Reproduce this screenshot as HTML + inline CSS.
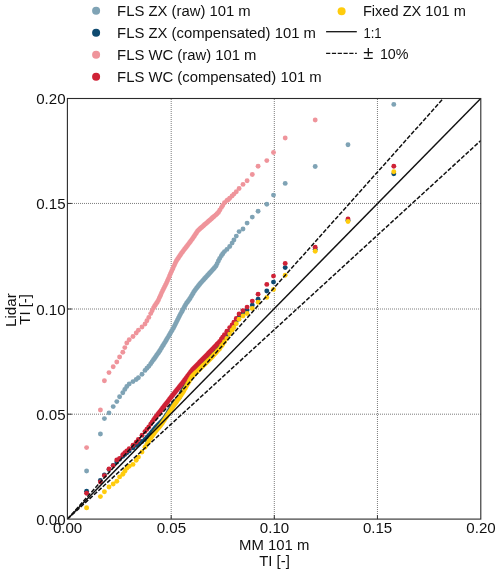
<!DOCTYPE html>
<html><head><meta charset="utf-8"><title>TI Q-Q plot</title>
<style>html,body{margin:0;padding:0;background:#fff;}body{width:500px;height:574px;position:relative;overflow:hidden;}</style>
</head><body>
<svg width="500" height="574" viewBox="0 0 500 574" style="position:absolute;left:0;top:0">
<defs><clipPath id="c"><rect x="67.4" y="98.5" width="413.4" height="420.6"/></clipPath></defs>
<rect x="0" y="0" width="500" height="574" fill="#fff"/>
<g stroke="#5a5a5a" stroke-width="0.8" stroke-dasharray="1 1" fill="none"><line x1="171.2" y1="99" x2="171.2" y2="519.1"/><line x1="274.3" y1="99" x2="274.3" y2="519.1"/><line x1="377.45" y1="99" x2="377.45" y2="519.1"/><line x1="68" y1="414.2" x2="480.8" y2="414.2"/><line x1="68" y1="309.0" x2="480.8" y2="309.0"/><line x1="68" y1="203.45" x2="480.8" y2="203.45"/></g>
<g stroke="#333" stroke-width="1" fill="none"><line x1="171.2" y1="519.1" x2="171.2" y2="515.1"/><line x1="274.3" y1="519.1" x2="274.3" y2="515.1"/><line x1="377.45" y1="519.1" x2="377.45" y2="515.1"/><line x1="67.4" y1="414.2" x2="71.9" y2="414.2"/><line x1="67.4" y1="309.0" x2="71.9" y2="309.0"/><line x1="67.4" y1="203.45" x2="71.9" y2="203.45"/></g>
<g clip-path="url(#c)">
<g fill="#7fa3b5"><circle cx="86.6" cy="471.0" r="2.45"/><circle cx="100.4" cy="434.0" r="2.45"/><circle cx="104.4" cy="418.6" r="2.45"/><circle cx="109.0" cy="412.9" r="2.45"/><circle cx="113.2" cy="406.6" r="2.45"/><circle cx="116.8" cy="401.6" r="2.45"/><circle cx="119.6" cy="396.7" r="2.45"/><circle cx="122.8" cy="392.7" r="2.45"/><circle cx="124.8" cy="389.4" r="2.45"/><circle cx="126.8" cy="386.5" r="2.45"/><circle cx="129.2" cy="383.9" r="2.45"/><circle cx="133.0" cy="381.6" r="2.45"/><circle cx="136.2" cy="379.5" r="2.45"/><circle cx="138.4" cy="377.7" r="2.45"/><circle cx="142.0" cy="374.2" r="2.45"/><circle cx="145.0" cy="370.4" r="2.45"/><circle cx="146.9" cy="368.3" r="2.45"/><circle cx="148.8" cy="366.2" r="2.45"/><circle cx="150.7" cy="363.7" r="2.45"/><circle cx="152.1" cy="361.7" r="2.45"/><circle cx="153.5" cy="359.8" r="2.45"/><circle cx="154.5" cy="358.4" r="2.45"/><circle cx="155.5" cy="357.0" r="2.45"/><circle cx="156.5" cy="355.5" r="2.45"/><circle cx="157.5" cy="354.1" r="2.45"/><circle cx="158.5" cy="352.7" r="2.45"/><circle cx="159.5" cy="351.2" r="2.45"/><circle cx="160.5" cy="349.6" r="2.45"/><circle cx="161.5" cy="347.9" r="2.45"/><circle cx="162.5" cy="346.3" r="2.45"/><circle cx="163.5" cy="344.7" r="2.45"/><circle cx="164.5" cy="343.1" r="2.45"/><circle cx="165.5" cy="341.5" r="2.45"/><circle cx="166.5" cy="339.8" r="2.45"/><circle cx="167.5" cy="338.1" r="2.45"/><circle cx="168.5" cy="336.4" r="2.45"/><circle cx="169.5" cy="334.7" r="2.45"/><circle cx="170.5" cy="333.0" r="2.45"/><circle cx="171.5" cy="331.3" r="2.45"/><circle cx="172.5" cy="329.6" r="2.45"/><circle cx="173.5" cy="327.9" r="2.45"/><circle cx="174.5" cy="326.0" r="2.45"/><circle cx="175.5" cy="324.0" r="2.45"/><circle cx="176.5" cy="322.0" r="2.45"/><circle cx="177.5" cy="320.0" r="2.45"/><circle cx="178.5" cy="318.0" r="2.45"/><circle cx="179.5" cy="316.0" r="2.45"/><circle cx="180.5" cy="314.1" r="2.45"/><circle cx="181.5" cy="312.2" r="2.45"/><circle cx="182.5" cy="310.4" r="2.45"/><circle cx="183.5" cy="308.6" r="2.45"/><circle cx="184.5" cy="306.7" r="2.45"/><circle cx="185.5" cy="304.9" r="2.45"/><circle cx="186.5" cy="303.3" r="2.45"/><circle cx="187.5" cy="301.9" r="2.45"/><circle cx="188.5" cy="300.6" r="2.45"/><circle cx="189.5" cy="299.2" r="2.45"/><circle cx="190.5" cy="297.6" r="2.45"/><circle cx="191.5" cy="295.9" r="2.45"/><circle cx="192.5" cy="294.2" r="2.45"/><circle cx="193.5" cy="292.5" r="2.45"/><circle cx="194.5" cy="290.9" r="2.45"/><circle cx="195.5" cy="289.6" r="2.45"/><circle cx="196.5" cy="288.3" r="2.45"/><circle cx="197.5" cy="287.0" r="2.45"/><circle cx="198.5" cy="285.8" r="2.45"/><circle cx="199.5" cy="284.4" r="2.45"/><circle cx="200.5" cy="283.2" r="2.45"/><circle cx="201.5" cy="282.1" r="2.45"/><circle cx="202.5" cy="281.0" r="2.45"/><circle cx="203.5" cy="279.9" r="2.45"/><circle cx="204.5" cy="278.8" r="2.45"/><circle cx="205.5" cy="277.7" r="2.45"/><circle cx="206.5" cy="276.6" r="2.45"/><circle cx="207.5" cy="275.5" r="2.45"/><circle cx="208.5" cy="274.4" r="2.45"/><circle cx="209.5" cy="273.3" r="2.45"/><circle cx="210.5" cy="272.2" r="2.45"/><circle cx="211.5" cy="271.1" r="2.45"/><circle cx="212.5" cy="270.0" r="2.45"/><circle cx="213.5" cy="268.9" r="2.45"/><circle cx="214.5" cy="267.7" r="2.45"/><circle cx="215.8" cy="266.3" r="2.45"/><circle cx="217.1" cy="263.8" r="2.45"/><circle cx="218.4" cy="261.0" r="2.45"/><circle cx="219.7" cy="258.4" r="2.45"/><circle cx="221.4" cy="255.8" r="2.45"/><circle cx="222.7" cy="253.8" r="2.45"/><circle cx="224.5" cy="251.6" r="2.45"/><circle cx="226.9" cy="249.4" r="2.45"/><circle cx="229.7" cy="246.5" r="2.45"/><circle cx="232.1" cy="243.1" r="2.45"/><circle cx="233.9" cy="240.0" r="2.45"/><circle cx="236.3" cy="236.1" r="2.45"/><circle cx="239.1" cy="231.6" r="2.45"/><circle cx="243.0" cy="229.0" r="2.45"/><circle cx="247.1" cy="223.1" r="2.45"/><circle cx="252.3" cy="217.1" r="2.45"/><circle cx="258.1" cy="211.2" r="2.45"/><circle cx="266.8" cy="204.3" r="2.45"/><circle cx="273.5" cy="195.1" r="2.45"/><circle cx="285.2" cy="183.4" r="2.45"/><circle cx="315.2" cy="166.5" r="2.45"/><circle cx="348.0" cy="144.7" r="2.45"/><circle cx="393.8" cy="104.4" r="2.45"/></g>
<g fill="#0e4a70"><circle cx="86.6" cy="491.2" r="2.45"/><circle cx="100.4" cy="480.4" r="2.45"/><circle cx="104.4" cy="475.0" r="2.45"/><circle cx="109.0" cy="469.5" r="2.45"/><circle cx="113.2" cy="465.4" r="2.45"/><circle cx="116.8" cy="462.0" r="2.45"/><circle cx="119.6" cy="459.3" r="2.45"/><circle cx="122.8" cy="456.2" r="2.45"/><circle cx="124.8" cy="454.4" r="2.45"/><circle cx="126.8" cy="452.8" r="2.45"/><circle cx="129.2" cy="450.9" r="2.45"/><circle cx="133.0" cy="447.9" r="2.45"/><circle cx="136.2" cy="445.4" r="2.45"/><circle cx="138.4" cy="443.9" r="2.45"/><circle cx="142.0" cy="441.5" r="2.45"/><circle cx="145.0" cy="439.5" r="2.45"/><circle cx="146.9" cy="437.5" r="2.45"/><circle cx="148.8" cy="435.5" r="2.45"/><circle cx="150.7" cy="433.4" r="2.45"/><circle cx="152.1" cy="431.7" r="2.45"/><circle cx="153.5" cy="430.1" r="2.45"/><circle cx="154.5" cy="428.9" r="2.45"/><circle cx="155.5" cy="427.8" r="2.45"/><circle cx="156.5" cy="426.8" r="2.45"/><circle cx="157.5" cy="425.8" r="2.45"/><circle cx="158.5" cy="424.8" r="2.45"/><circle cx="159.5" cy="423.8" r="2.45"/><circle cx="160.5" cy="422.8" r="2.45"/><circle cx="161.5" cy="421.7" r="2.45"/><circle cx="162.5" cy="420.6" r="2.45"/><circle cx="163.5" cy="419.5" r="2.45"/><circle cx="164.5" cy="418.2" r="2.45"/><circle cx="165.5" cy="416.7" r="2.45"/><circle cx="166.5" cy="415.2" r="2.45"/><circle cx="167.5" cy="413.7" r="2.45"/><circle cx="168.5" cy="412.0" r="2.45"/><circle cx="169.5" cy="410.3" r="2.45"/><circle cx="170.5" cy="408.7" r="2.45"/><circle cx="171.5" cy="407.0" r="2.45"/><circle cx="172.5" cy="405.4" r="2.45"/><circle cx="173.5" cy="404.0" r="2.45"/><circle cx="174.5" cy="402.8" r="2.45"/><circle cx="175.5" cy="401.6" r="2.45"/><circle cx="176.5" cy="400.4" r="2.45"/><circle cx="177.5" cy="399.3" r="2.45"/><circle cx="178.5" cy="398.1" r="2.45"/><circle cx="179.5" cy="397.0" r="2.45"/><circle cx="180.5" cy="394.9" r="2.45"/><circle cx="181.5" cy="392.8" r="2.45"/><circle cx="182.5" cy="390.7" r="2.45"/><circle cx="183.5" cy="388.9" r="2.45"/><circle cx="184.5" cy="387.2" r="2.45"/><circle cx="185.5" cy="385.5" r="2.45"/><circle cx="186.5" cy="383.8" r="2.45"/><circle cx="187.5" cy="382.1" r="2.45"/><circle cx="188.5" cy="380.3" r="2.45"/><circle cx="189.5" cy="378.6" r="2.45"/><circle cx="190.5" cy="376.9" r="2.45"/><circle cx="191.5" cy="375.2" r="2.45"/><circle cx="192.5" cy="373.8" r="2.45"/><circle cx="193.5" cy="372.8" r="2.45"/><circle cx="194.5" cy="371.8" r="2.45"/><circle cx="195.5" cy="370.9" r="2.45"/><circle cx="196.5" cy="369.9" r="2.45"/><circle cx="197.5" cy="368.9" r="2.45"/><circle cx="198.5" cy="367.9" r="2.45"/><circle cx="199.5" cy="366.9" r="2.45"/><circle cx="200.5" cy="365.9" r="2.45"/><circle cx="201.5" cy="365.0" r="2.45"/><circle cx="202.5" cy="364.0" r="2.45"/><circle cx="203.5" cy="363.0" r="2.45"/><circle cx="204.5" cy="362.0" r="2.45"/><circle cx="205.5" cy="361.0" r="2.45"/><circle cx="206.5" cy="360.0" r="2.45"/><circle cx="207.5" cy="359.1" r="2.45"/><circle cx="208.5" cy="358.1" r="2.45"/><circle cx="209.5" cy="357.1" r="2.45"/><circle cx="210.5" cy="356.0" r="2.45"/><circle cx="211.5" cy="354.7" r="2.45"/><circle cx="212.5" cy="353.5" r="2.45"/><circle cx="213.5" cy="352.2" r="2.45"/><circle cx="214.5" cy="351.0" r="2.45"/><circle cx="215.8" cy="349.3" r="2.45"/><circle cx="217.1" cy="347.7" r="2.45"/><circle cx="218.4" cy="346.1" r="2.45"/><circle cx="219.7" cy="344.5" r="2.45"/><circle cx="221.4" cy="342.2" r="2.45"/><circle cx="222.7" cy="340.4" r="2.45"/><circle cx="224.5" cy="337.9" r="2.45"/><circle cx="226.9" cy="334.7" r="2.45"/><circle cx="229.7" cy="330.6" r="2.45"/><circle cx="232.1" cy="327.0" r="2.45"/><circle cx="233.9" cy="324.3" r="2.45"/><circle cx="236.3" cy="320.7" r="2.45"/><circle cx="239.1" cy="316.5" r="2.45"/><circle cx="243.0" cy="313.0" r="2.45"/><circle cx="247.1" cy="310.1" r="2.45"/><circle cx="252.3" cy="305.1" r="2.45"/><circle cx="258.1" cy="299.3" r="2.45"/><circle cx="266.8" cy="291.0" r="2.45"/><circle cx="273.5" cy="282.1" r="2.45"/><circle cx="285.2" cy="267.6" r="2.45"/><circle cx="315.2" cy="249.5" r="2.45"/><circle cx="348.0" cy="220.5" r="2.45"/><circle cx="393.8" cy="173.7" r="2.45"/></g>
<g fill="#ef949b"><circle cx="86.6" cy="447.6" r="2.45"/><circle cx="100.4" cy="410.0" r="2.45"/><circle cx="104.4" cy="380.8" r="2.45"/><circle cx="109.0" cy="372.6" r="2.45"/><circle cx="113.2" cy="366.8" r="2.45"/><circle cx="116.8" cy="362.0" r="2.45"/><circle cx="119.6" cy="357.0" r="2.45"/><circle cx="122.8" cy="352.2" r="2.45"/><circle cx="124.8" cy="347.6" r="2.45"/><circle cx="126.8" cy="343.0" r="2.45"/><circle cx="129.2" cy="339.8" r="2.45"/><circle cx="133.0" cy="336.5" r="2.45"/><circle cx="136.2" cy="333.0" r="2.45"/><circle cx="138.4" cy="330.3" r="2.45"/><circle cx="142.0" cy="327.0" r="2.45"/><circle cx="145.0" cy="324.0" r="2.45"/><circle cx="146.9" cy="320.8" r="2.45"/><circle cx="148.8" cy="317.4" r="2.45"/><circle cx="150.7" cy="313.6" r="2.45"/><circle cx="152.1" cy="310.8" r="2.45"/><circle cx="153.5" cy="308.0" r="2.45"/><circle cx="154.5" cy="306.2" r="2.45"/><circle cx="155.5" cy="304.7" r="2.45"/><circle cx="156.5" cy="303.2" r="2.45"/><circle cx="157.5" cy="301.7" r="2.45"/><circle cx="158.5" cy="299.9" r="2.45"/><circle cx="159.5" cy="297.6" r="2.45"/><circle cx="160.5" cy="295.4" r="2.45"/><circle cx="161.5" cy="293.1" r="2.45"/><circle cx="162.5" cy="291.0" r="2.45"/><circle cx="163.5" cy="289.0" r="2.45"/><circle cx="164.5" cy="287.0" r="2.45"/><circle cx="165.5" cy="285.0" r="2.45"/><circle cx="166.5" cy="283.0" r="2.45"/><circle cx="167.5" cy="280.8" r="2.45"/><circle cx="168.5" cy="278.4" r="2.45"/><circle cx="169.5" cy="276.0" r="2.45"/><circle cx="170.5" cy="273.7" r="2.45"/><circle cx="171.5" cy="271.5" r="2.45"/><circle cx="172.5" cy="269.3" r="2.45"/><circle cx="173.5" cy="267.1" r="2.45"/><circle cx="174.5" cy="264.9" r="2.45"/><circle cx="175.5" cy="262.7" r="2.45"/><circle cx="176.5" cy="260.8" r="2.45"/><circle cx="177.5" cy="259.3" r="2.45"/><circle cx="178.5" cy="257.8" r="2.45"/><circle cx="179.5" cy="256.3" r="2.45"/><circle cx="180.5" cy="254.8" r="2.45"/><circle cx="181.5" cy="253.3" r="2.45"/><circle cx="182.5" cy="251.9" r="2.45"/><circle cx="183.5" cy="250.6" r="2.45"/><circle cx="184.5" cy="249.3" r="2.45"/><circle cx="185.5" cy="248.0" r="2.45"/><circle cx="186.5" cy="246.7" r="2.45"/><circle cx="187.5" cy="245.4" r="2.45"/><circle cx="188.5" cy="244.1" r="2.45"/><circle cx="189.5" cy="242.8" r="2.45"/><circle cx="190.5" cy="241.5" r="2.45"/><circle cx="191.5" cy="240.1" r="2.45"/><circle cx="192.5" cy="238.7" r="2.45"/><circle cx="193.5" cy="237.2" r="2.45"/><circle cx="194.5" cy="235.7" r="2.45"/><circle cx="195.5" cy="234.2" r="2.45"/><circle cx="196.5" cy="232.7" r="2.45"/><circle cx="197.5" cy="231.2" r="2.45"/><circle cx="198.5" cy="230.1" r="2.45"/><circle cx="199.5" cy="229.2" r="2.45"/><circle cx="200.5" cy="228.3" r="2.45"/><circle cx="201.5" cy="227.4" r="2.45"/><circle cx="202.5" cy="226.6" r="2.45"/><circle cx="203.5" cy="225.7" r="2.45"/><circle cx="204.5" cy="224.8" r="2.45"/><circle cx="205.5" cy="223.9" r="2.45"/><circle cx="206.5" cy="223.1" r="2.45"/><circle cx="207.5" cy="222.2" r="2.45"/><circle cx="208.5" cy="221.3" r="2.45"/><circle cx="209.5" cy="220.4" r="2.45"/><circle cx="210.5" cy="219.6" r="2.45"/><circle cx="211.5" cy="218.7" r="2.45"/><circle cx="212.5" cy="217.8" r="2.45"/><circle cx="213.5" cy="216.9" r="2.45"/><circle cx="214.5" cy="216.1" r="2.45"/><circle cx="215.8" cy="214.9" r="2.45"/><circle cx="217.1" cy="213.8" r="2.45"/><circle cx="218.4" cy="212.4" r="2.45"/><circle cx="219.7" cy="210.3" r="2.45"/><circle cx="221.4" cy="207.6" r="2.45"/><circle cx="222.7" cy="205.5" r="2.45"/><circle cx="224.5" cy="202.7" r="2.45"/><circle cx="226.9" cy="200.5" r="2.45"/><circle cx="228.3" cy="199.8" r="2.45"/><circle cx="229.7" cy="198.3" r="2.45"/><circle cx="232.1" cy="195.9" r="2.45"/><circle cx="233.9" cy="194.1" r="2.45"/><circle cx="236.3" cy="191.7" r="2.45"/><circle cx="239.1" cy="188.5" r="2.45"/><circle cx="243.0" cy="184.4" r="2.45"/><circle cx="247.1" cy="180.7" r="2.45"/><circle cx="252.3" cy="174.5" r="2.45"/><circle cx="258.1" cy="166.3" r="2.45"/><circle cx="266.8" cy="160.6" r="2.45"/><circle cx="273.5" cy="152.5" r="2.45"/><circle cx="285.2" cy="138.0" r="2.45"/><circle cx="315.2" cy="120.0" r="2.45"/><circle cx="348.0" cy="70.0" r="2.45"/><circle cx="393.8" cy="20.0" r="2.45"/></g>
<g fill="#cf2236"><circle cx="86.6" cy="493.2" r="2.45"/><circle cx="100.4" cy="482.0" r="2.45"/><circle cx="104.4" cy="475.6" r="2.45"/><circle cx="109.0" cy="469.0" r="2.45"/><circle cx="113.2" cy="465.6" r="2.45"/><circle cx="116.8" cy="460.0" r="2.45"/><circle cx="119.6" cy="458.4" r="2.45"/><circle cx="122.8" cy="454.8" r="2.45"/><circle cx="124.8" cy="452.8" r="2.45"/><circle cx="126.8" cy="450.9" r="2.45"/><circle cx="129.2" cy="448.7" r="2.45"/><circle cx="133.0" cy="445.2" r="2.45"/><circle cx="136.2" cy="442.2" r="2.45"/><circle cx="138.4" cy="439.5" r="2.45"/><circle cx="142.0" cy="435.2" r="2.45"/><circle cx="145.0" cy="431.6" r="2.45"/><circle cx="146.9" cy="429.3" r="2.45"/><circle cx="148.8" cy="426.9" r="2.45"/><circle cx="150.7" cy="424.1" r="2.45"/><circle cx="152.1" cy="422.1" r="2.45"/><circle cx="153.5" cy="420.1" r="2.45"/><circle cx="154.5" cy="418.7" r="2.45"/><circle cx="155.5" cy="417.4" r="2.45"/><circle cx="156.5" cy="416.1" r="2.45"/><circle cx="157.5" cy="414.8" r="2.45"/><circle cx="158.5" cy="413.5" r="2.45"/><circle cx="159.5" cy="412.2" r="2.45"/><circle cx="160.5" cy="410.9" r="2.45"/><circle cx="161.5" cy="409.6" r="2.45"/><circle cx="162.5" cy="408.3" r="2.45"/><circle cx="163.5" cy="407.0" r="2.45"/><circle cx="164.5" cy="405.8" r="2.45"/><circle cx="165.5" cy="404.5" r="2.45"/><circle cx="166.5" cy="403.2" r="2.45"/><circle cx="167.5" cy="401.9" r="2.45"/><circle cx="168.5" cy="400.6" r="2.45"/><circle cx="169.5" cy="399.3" r="2.45"/><circle cx="170.5" cy="398.0" r="2.45"/><circle cx="171.5" cy="396.7" r="2.45"/><circle cx="172.5" cy="395.4" r="2.45"/><circle cx="173.5" cy="394.2" r="2.45"/><circle cx="174.5" cy="392.9" r="2.45"/><circle cx="175.5" cy="391.7" r="2.45"/><circle cx="176.5" cy="390.4" r="2.45"/><circle cx="177.5" cy="389.2" r="2.45"/><circle cx="178.5" cy="387.9" r="2.45"/><circle cx="179.5" cy="386.7" r="2.45"/><circle cx="180.5" cy="385.4" r="2.45"/><circle cx="181.5" cy="384.2" r="2.45"/><circle cx="182.5" cy="382.9" r="2.45"/><circle cx="183.5" cy="381.6" r="2.45"/><circle cx="184.5" cy="380.3" r="2.45"/><circle cx="185.5" cy="378.9" r="2.45"/><circle cx="186.5" cy="377.6" r="2.45"/><circle cx="187.5" cy="376.2" r="2.45"/><circle cx="188.5" cy="374.9" r="2.45"/><circle cx="189.5" cy="373.6" r="2.45"/><circle cx="190.5" cy="372.2" r="2.45"/><circle cx="191.5" cy="370.9" r="2.45"/><circle cx="192.5" cy="369.7" r="2.45"/><circle cx="193.5" cy="368.7" r="2.45"/><circle cx="194.5" cy="367.6" r="2.45"/><circle cx="195.5" cy="366.6" r="2.45"/><circle cx="196.5" cy="365.6" r="2.45"/><circle cx="197.5" cy="364.6" r="2.45"/><circle cx="198.5" cy="363.6" r="2.45"/><circle cx="199.5" cy="362.5" r="2.45"/><circle cx="200.5" cy="361.5" r="2.45"/><circle cx="201.5" cy="360.5" r="2.45"/><circle cx="202.5" cy="359.5" r="2.45"/><circle cx="203.5" cy="358.4" r="2.45"/><circle cx="204.5" cy="357.4" r="2.45"/><circle cx="205.5" cy="356.4" r="2.45"/><circle cx="206.5" cy="355.4" r="2.45"/><circle cx="207.5" cy="354.4" r="2.45"/><circle cx="208.5" cy="353.3" r="2.45"/><circle cx="209.5" cy="352.3" r="2.45"/><circle cx="210.5" cy="351.3" r="2.45"/><circle cx="211.5" cy="350.2" r="2.45"/><circle cx="212.5" cy="349.1" r="2.45"/><circle cx="213.5" cy="348.1" r="2.45"/><circle cx="214.5" cy="347.0" r="2.45"/><circle cx="215.8" cy="345.6" r="2.45"/><circle cx="217.1" cy="344.3" r="2.45"/><circle cx="218.4" cy="342.9" r="2.45"/><circle cx="219.7" cy="341.5" r="2.45"/><circle cx="221.4" cy="339.0" r="2.45"/><circle cx="222.7" cy="337.2" r="2.45"/><circle cx="224.5" cy="334.6" r="2.45"/><circle cx="226.9" cy="331.2" r="2.45"/><circle cx="229.7" cy="327.6" r="2.45"/><circle cx="232.1" cy="324.9" r="2.45"/><circle cx="233.9" cy="322.1" r="2.45"/><circle cx="236.3" cy="318.5" r="2.45"/><circle cx="239.1" cy="313.9" r="2.45"/><circle cx="243.0" cy="310.6" r="2.45"/><circle cx="247.1" cy="307.1" r="2.45"/><circle cx="252.3" cy="301.1" r="2.45"/><circle cx="258.1" cy="294.3" r="2.45"/><circle cx="266.8" cy="284.4" r="2.45"/><circle cx="273.5" cy="276.1" r="2.45"/><circle cx="285.2" cy="263.4" r="2.45"/><circle cx="315.2" cy="247.3" r="2.45"/><circle cx="348.0" cy="218.9" r="2.45"/><circle cx="393.8" cy="166.3" r="2.45"/></g>
<g fill="#ffcc0d"><circle cx="86.6" cy="507.8" r="2.45"/><circle cx="100.4" cy="496.6" r="2.45"/><circle cx="104.4" cy="491.8" r="2.45"/><circle cx="109.0" cy="487.0" r="2.45"/><circle cx="113.2" cy="484.0" r="2.45"/><circle cx="116.8" cy="481.2" r="2.45"/><circle cx="119.6" cy="476.9" r="2.45"/><circle cx="122.8" cy="474.2" r="2.45"/><circle cx="124.8" cy="471.3" r="2.45"/><circle cx="126.8" cy="468.3" r="2.45"/><circle cx="129.2" cy="466.2" r="2.45"/><circle cx="133.0" cy="464.4" r="2.45"/><circle cx="136.2" cy="460.3" r="2.45"/><circle cx="138.4" cy="457.1" r="2.45"/><circle cx="142.0" cy="452.0" r="2.45"/><circle cx="145.0" cy="447.2" r="2.45"/><circle cx="146.9" cy="444.2" r="2.45"/><circle cx="148.8" cy="441.2" r="2.45"/><circle cx="150.7" cy="438.4" r="2.45"/><circle cx="152.1" cy="436.3" r="2.45"/><circle cx="153.5" cy="434.2" r="2.45"/><circle cx="154.5" cy="432.7" r="2.45"/><circle cx="155.5" cy="431.4" r="2.45"/><circle cx="156.5" cy="430.2" r="2.45"/><circle cx="157.5" cy="429.1" r="2.45"/><circle cx="158.5" cy="427.9" r="2.45"/><circle cx="159.5" cy="426.7" r="2.45"/><circle cx="160.5" cy="425.6" r="2.45"/><circle cx="161.5" cy="424.2" r="2.45"/><circle cx="162.5" cy="422.7" r="2.45"/><circle cx="163.5" cy="421.2" r="2.45"/><circle cx="164.5" cy="419.7" r="2.45"/><circle cx="165.5" cy="418.2" r="2.45"/><circle cx="166.5" cy="416.7" r="2.45"/><circle cx="167.5" cy="415.1" r="2.45"/><circle cx="168.5" cy="413.6" r="2.45"/><circle cx="169.5" cy="412.1" r="2.45"/><circle cx="170.5" cy="410.6" r="2.45"/><circle cx="171.5" cy="409.1" r="2.45"/><circle cx="172.5" cy="407.6" r="2.45"/><circle cx="173.5" cy="406.1" r="2.45"/><circle cx="174.5" cy="404.6" r="2.45"/><circle cx="175.5" cy="403.2" r="2.45"/><circle cx="176.5" cy="401.8" r="2.45"/><circle cx="177.5" cy="400.3" r="2.45"/><circle cx="178.5" cy="398.9" r="2.45"/><circle cx="179.5" cy="397.5" r="2.45"/><circle cx="180.5" cy="396.0" r="2.45"/><circle cx="181.5" cy="394.6" r="2.45"/><circle cx="182.5" cy="393.1" r="2.45"/><circle cx="183.5" cy="391.4" r="2.45"/><circle cx="184.5" cy="389.6" r="2.45"/><circle cx="185.5" cy="387.9" r="2.45"/><circle cx="186.5" cy="386.1" r="2.45"/><circle cx="187.5" cy="384.3" r="2.45"/><circle cx="188.5" cy="382.6" r="2.45"/><circle cx="189.5" cy="380.8" r="2.45"/><circle cx="190.5" cy="379.0" r="2.45"/><circle cx="191.5" cy="377.3" r="2.45"/><circle cx="192.5" cy="375.9" r="2.45"/><circle cx="193.5" cy="375.0" r="2.45"/><circle cx="194.5" cy="374.0" r="2.45"/><circle cx="195.5" cy="373.0" r="2.45"/><circle cx="196.5" cy="372.1" r="2.45"/><circle cx="197.5" cy="371.1" r="2.45"/><circle cx="198.5" cy="370.2" r="2.45"/><circle cx="199.5" cy="369.2" r="2.45"/><circle cx="200.5" cy="368.2" r="2.45"/><circle cx="201.5" cy="367.3" r="2.45"/><circle cx="202.5" cy="366.3" r="2.45"/><circle cx="203.5" cy="365.3" r="2.45"/><circle cx="204.5" cy="364.4" r="2.45"/><circle cx="205.5" cy="363.4" r="2.45"/><circle cx="206.5" cy="362.5" r="2.45"/><circle cx="207.5" cy="361.5" r="2.45"/><circle cx="208.5" cy="360.5" r="2.45"/><circle cx="209.5" cy="359.6" r="2.45"/><circle cx="210.5" cy="358.6" r="2.45"/><circle cx="211.5" cy="357.5" r="2.45"/><circle cx="212.5" cy="356.4" r="2.45"/><circle cx="213.5" cy="355.3" r="2.45"/><circle cx="214.5" cy="354.3" r="2.45"/><circle cx="215.8" cy="352.9" r="2.45"/><circle cx="217.1" cy="351.5" r="2.45"/><circle cx="218.4" cy="350.1" r="2.45"/><circle cx="219.7" cy="348.7" r="2.45"/><circle cx="221.4" cy="346.2" r="2.45"/><circle cx="222.7" cy="344.4" r="2.45"/><circle cx="224.5" cy="341.8" r="2.45"/><circle cx="226.9" cy="338.4" r="2.45"/><circle cx="229.7" cy="334.1" r="2.45"/><circle cx="232.1" cy="330.3" r="2.45"/><circle cx="233.9" cy="327.5" r="2.45"/><circle cx="236.3" cy="323.7" r="2.45"/><circle cx="239.1" cy="319.3" r="2.45"/><circle cx="243.0" cy="316.0" r="2.45"/><circle cx="247.1" cy="313.5" r="2.45"/><circle cx="252.3" cy="308.5" r="2.45"/><circle cx="258.1" cy="302.3" r="2.45"/><circle cx="266.8" cy="297.4" r="2.45"/><circle cx="273.5" cy="289.5" r="2.45"/><circle cx="285.2" cy="275.2" r="2.45"/><circle cx="315.2" cy="251.2" r="2.45"/><circle cx="348.0" cy="221.5" r="2.45"/><circle cx="393.8" cy="171.8" r="2.45"/></g>
<line x1="67.4" y1="519.1" x2="480.80000000000007" y2="98.5" stroke="#111" stroke-width="1.5"/>
<line x1="67.4" y1="519.1" x2="480.80000000000007" y2="56.44" stroke="#111" stroke-width="1.5" stroke-dasharray="4.3 1.7"/>
<line x1="67.4" y1="519.1" x2="480.80000000000007" y2="140.56000000000006" stroke="#111" stroke-width="1.5" stroke-dasharray="4.3 1.7"/>
</g>
<rect x="67.4" y="98.5" width="413.4" height="420.6" fill="none" stroke="#2b2b2b" stroke-width="1.1"/>
<g font-family="Liberation Sans, Arial, sans-serif" font-size="15.1" fill="#111"><text x="65.6" y="524.6" text-anchor="end">0.00</text><text x="67.6" y="532.9" text-anchor="middle">0.00</text><text x="65.6" y="419.7" text-anchor="end">0.05</text><text x="171.4" y="532.9" text-anchor="middle">0.05</text><text x="65.6" y="314.5" text-anchor="end">0.10</text><text x="274.5" y="532.9" text-anchor="middle">0.10</text><text x="65.6" y="208.9" text-anchor="end">0.15</text><text x="377.6" y="532.9" text-anchor="middle">0.15</text><text x="65.6" y="104.0" text-anchor="end">0.20</text><text x="481.0" y="532.9" text-anchor="middle">0.20</text><text x="274.25" y="550" text-anchor="middle" font-size="14.9">MM 101 m</text><text x="274.5" y="566" text-anchor="middle" font-size="14.9">TI [-]</text><text transform="translate(15.6,310.1) rotate(-90)" text-anchor="middle" font-size="15.2">Lidar</text><text transform="translate(30.4,309.4) rotate(-90)" text-anchor="middle" font-size="14.9">TI [-]</text></g>
<g font-family="Liberation Sans, Arial, sans-serif" font-size="15" fill="#111"><circle cx="96.1" cy="10.8" r="4.0" fill="#7fa3b5"/><text x="117.1" y="16.0" font-size="14.85">FLS ZX (raw) 101 m</text><circle cx="96.1" cy="32.8" r="4.0" fill="#0e4a70"/><text x="117.1" y="38.0" font-size="14.85">FLS ZX (compensated) 101 m</text><circle cx="96.1" cy="54.75" r="4.0" fill="#ef949b"/><text x="117.1" y="60.0" font-size="14.85">FLS WC (raw) 101 m</text><circle cx="96.1" cy="76.7" r="4.0" fill="#cf2236"/><text x="117.1" y="81.9" font-size="14.85">FLS WC (compensated) 101 m</text><circle cx="341.6" cy="11.2" r="4.0" fill="#ffcc0d"/><text x="362.9" y="16.3" font-size="14.6">Fixed ZX 101 m</text><line x1="326.1" y1="31.7" x2="356.8" y2="31.7" stroke="#111" stroke-width="1.3"/><text x="363.4" y="37.6" font-size="14.6" textLength="18.2" lengthAdjust="spacingAndGlyphs">1:1</text><line x1="326.1" y1="53.3" x2="356.8" y2="53.3" stroke="#111" stroke-width="1.3" stroke-dasharray="4.2 1.6"/><text y="58.8" font-size="14.3"><tspan x="363.2" font-size="18.4">±</tspan><tspan x="379.9"> </tspan><tspan x="379.9">10%</tspan></text></g>
</svg>
</body></html>
